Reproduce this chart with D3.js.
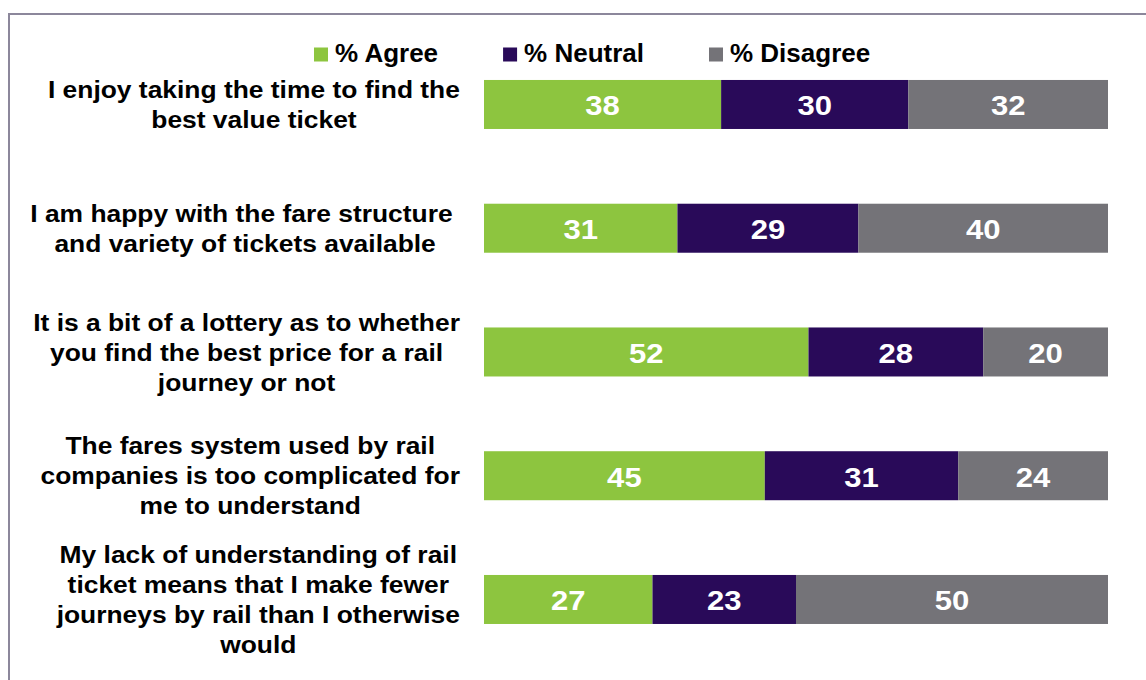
<!DOCTYPE html>
<html>
<head>
<meta charset="utf-8">
<script src="https://cdn.jsdelivr.net/npm/d3@7"></script>
<style>
	html, body { margin: 0; padding: 0; background: #fff; overflow: hidden; }
	svg text { font-family: "Liberation Sans", Arial, sans-serif; font-weight: bold; }
</style>
</head>
<body>
<svg id="chart" width="1146" height="680"></svg>
<script>
const categories = [
	'I enjoy taking the time to find the\nbest value ticket',
	'I am happy with the fare structure \nand variety of tickets available',
	'It is a bit of a lottery as to whether\nyou find the best price for a rail\njourney or not',
	'The fares system used by rail\ncompanies is too complicated for\nme to understand',
	'My lack of understanding of rail\nticket means that I make fewer\njourneys by rail than I otherwise\nwould'
];
const agree = [38, 31, 52, 45, 27];
const neutral = [30, 29, 28, 31, 23];
const disagree = [32, 40, 20, 24, 50];
const seriesNames = ['% Agree', '% Neutral', '% Disagree'];
const seriesColors = ['#8dc53f', '#290a59', '#747378'];

const svg = d3.select('#chart');

// frame (only top and left edges fall inside the picture)
svg.append('rect')
	.attr('x', 9)
	.attr('y', 14)
	.attr('width', 1300)
	.attr('height', 1000)
	.attr('fill', 'none')
	.attr('stroke', '#8c879b')
	.attr('stroke-width', 2);

const x = d3.scaleLinear().domain([0, 100]).range([484, 1108]);
const y = d3.scaleBand()
	.domain(d3.range(categories.length))
	.range([42.6, 661.35])
	.paddingInner(0.604)
	.paddingOuter(0.302);

const rows = categories.map((label, i) => {
	const vals = [agree[i], neutral[i], disagree[i]];
	let acc = 0;
	const segs = vals.map((v, k) => {
		const s = {k: k, v: v, x0: acc, x1: acc + v};
		acc += v;
		return s;
	});
	return {i: i, label: label, segs: segs};
});

// bars
const row = svg.selectAll('g.row').data(rows)
	.enter()
	.append('g')
		.attr('class', 'row')
		.attr('transform', d => `translate(0, ${y(d.i)})`);

const seg = row.selectAll('g.seg').data(d => d.segs)
	.enter()
	.append('g')
		.attr('class', 'seg');

seg.append('rect')
	.attr('x', d => x(d.x0))
	.attr('width', d => x(d.x1) - x(d.x0))
	.attr('height', y.bandwidth())
	.attr('fill', d => seriesColors[d.k]);

const valSize = 27.5,
			valStretch = 1.13;
seg.append('text')
	.attr('transform', d => `translate(${(x(d.x0) + x(d.x1)) / 2}, ${y.bandwidth() / 2 + valSize * 0.358 + 1}) scale(${valStretch}, 1)`)
	.attr('text-anchor', 'middle')
	.style('font-size', `${valSize}px`)
	.style('fill', '#fff')
	.text(d => d.v);

// category labels, lines centred in a block whose right edge sits at 460
const labSize = 24,
			labStretch = 1.1,
			lineGap = 30,
			labRight = 460;

row.each(function (d) {
	const lines = d.label.split('\n');
	const c = y.bandwidth() / 2;
	const b1 = c + labSize * 0.358 - lineGap * (lines.length - 1) / 2;
	const g = d3.select(this).append('g');
	const t = g.append('text')
		.attr('text-anchor', 'middle')
		.style('font-size', `${labSize}px`)
		.style('white-space', 'pre')
		.style('fill', '#000');
	t.selectAll('tspan').data(lines)
		.enter()
		.append('tspan')
			.attr('x', 0)
			.attr('y', (l, j) => b1 + j * lineGap)
			.text(l => l);
	const w = d3.max(t.selectAll('tspan').nodes(), n => n.getComputedTextLength()) * labStretch;
	g.attr('transform', `translate(${labRight - w / 2}, 0) scale(${labStretch}, 1)`);
});

// legend
const legSize = 26;
let lx = 314;
const legend = svg.append('g').attr('class', 'legend');
seriesNames.forEach((name, k) => {
	legend.append('rect')
		.attr('x', lx)
		.attr('y', 47.5)
		.attr('width', 14)
		.attr('height', 14)
		.attr('fill', seriesColors[k]);
	const t = legend.append('text')
		.attr('x', lx + 21)
		.attr('y', 62)
		.style('font-size', `${legSize}px`)
		.style('fill', '#000')
		.text(name);
	lx += 21 + t.node().getComputedTextLength() + 65;
});
</script>
</body>
</html>
